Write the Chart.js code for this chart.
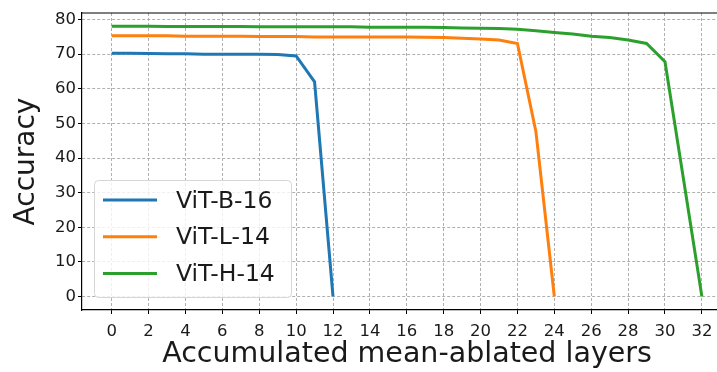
<!DOCTYPE html>
<html>
<head>
<meta charset="utf-8">
<script src="https://cdn.jsdelivr.net/npm/chart.js@4"></script>
<style>
  html, body { margin: 0; padding: 0; background: #fff; }
  #wrap { width: 717px; height: 372px; }
</style>
</head>
<body>
<div id="wrap"><canvas id="chart" width="717" height="372"></canvas></div>
<script>
// DATA
let seriesNames = ["ViT-B-16", "ViT-L-14", "ViT-H-14"];
let seriesColors = ["#1f77b4", "#ff7f0e", "#2ca02c"];

let layersB = [0,1,2,3,4,5,6,7,8,9,10,11,12];
let accB = [70.3,70.3,70.2,70.1,70.1,70.0,70.0,70.0,70.0,69.9,69.5,62.0,0];

let layersL = [0,1,2,3,4,5,6,7,8,9,10,11,12,13,14,15,16,17,18,19,20,21,22,23,24];
let accL = [75.3,75.3,75.3,75.3,75.2,75.2,75.2,75.2,75.1,75.1,75.1,75.0,75.0,75.0,75.0,75.0,75.0,74.9,74.8,74.6,74.4,74.1,73.1,47.7,0];

let layersH = [0,1,2,3,4,5,6,7,8,9,10,11,12,13,14,15,16,17,18,19,20,21,22,23,24,25,26,27,28,29,30,31,32];
let accH = [78.1,78.1,78.1,78.0,78.0,78.0,78.0,78.0,77.9,77.9,77.9,77.9,77.9,77.9,77.8,77.8,77.8,77.8,77.7,77.6,77.5,77.4,77.2,76.8,76.3,75.8,75.2,74.8,74.1,73.1,67.8,34.0,0];

let xTicks = [0,2,4,6,8,10,12,14,16,18,20,22,24,26,28,30,32];
let yTicks = [0,10,20,30,40,50,60,70,80];
let xTitle = "Accumulated mean-ablated layers";

function pts(xs, ys) {
  return xs.map((x, i) => ({ x: x, y: ys[i] }));
}

let font = "'DejaVu Sans', sans-serif";

// LEGEND (drawn inside the plot, like matplotlib) + x title
let boxLegend = {
  id: "boxLegend",
  afterDraw(chart) {
    let c = chart.ctx;
    let x = 94, y = 180, w = 197, h = 117;
    c.save();
    c.fillStyle = "rgba(255,255,255,0.8)";
    c.strokeStyle = "#d6d6d6";
    c.lineWidth = 1;
    c.beginPath();
    c.roundRect(x + 0.5, y + 0.5, w, h, 4);
    c.fill();
    c.stroke();
    c.font = "23.5px " + font;
    c.textBaseline = "middle";
    chart.data.datasets.forEach((ds, i) => {
      let ry = y + 20 + i * 36.7;
      c.strokeStyle = ds.borderColor;
      c.lineWidth = 3;
      c.beginPath();
      c.moveTo(103, ry);
      c.lineTo(157, ry);
      c.stroke();
      c.fillStyle = "#1a1a1a";
      c.fillText(ds.label, 176, ry + 1.5);
    });

    // x axis title, centred on the full axes box (which runs past the right edge)
    c.font = "28.5px " + font;
    c.textAlign = "center";
    c.textBaseline = "alphabetic";
    c.fillStyle = "#1a1a1a";
    c.fillText(xTitle, 407, 362);
    c.restore();
  }
};

// TOP SPINE
let topSpine = {
  id: "topSpine",
  beforeDatasetsDraw(chart) {
    let a = chart.chartArea;
    let c = chart.ctx;
    c.save();
    c.strokeStyle = "#000";
    c.lineWidth = 1.2;
    c.beginPath();
    c.moveTo(a.left, a.top);
    c.lineTo(chart.width, a.top);
    c.stroke();
    c.restore();
  }
};

let gridOpts = { color: "#b0b0b0", tickColor: "#000", tickBorderDash: [], tickLength: 4, tickWidth: 1 };

let ctx = document.getElementById("chart").getContext("2d");
let chart = new Chart(ctx, {
  type: "line",
  data: {
    datasets: seriesNames.map((name, i) => ({
      label: name,
      data: [pts(layersB, accB), pts(layersL, accL), pts(layersH, accH)][i],
      borderColor: seriesColors[i],
      backgroundColor: seriesColors[i],
      borderWidth: 3,
      pointRadius: 0,
      tension: 0,
      fill: false
    }))
  },
  options: {
    responsive: false,
    animation: false,
    layout: { padding: { top: 13, right: 0, left: 0, bottom: 0 } },
    plugins: { legend: { display: false }, tooltip: { enabled: false } },
    scales: {
      x: {
        type: "linear",
        min: -1.61,
        max: 32.82,
        afterBuildTicks: s => { s.ticks = xTicks.map(v => ({ value: v })); },
        afterFit: s => { s.height = 62; s.paddingRight = 0; s.paddingLeft = 0; },
        ticks: { color: "#1a1a1a", font: { family: font, size: 16.5 }, padding: 8, maxRotation: 0, autoSkip: false },
        grid: gridOpts,
        border: { display: true, color: "#000", width: 1.2, dash: [3, 2] },
        title: { display: false }
      },
      y: {
        min: -3.9,
        max: 81.9,
        afterBuildTicks: s => { s.ticks = yTicks.map(v => ({ value: v })); },
        afterFit: s => { s.width = 82; s.paddingTop = 0; s.paddingBottom = 0; },
        ticks: { color: "#1a1a1a", font: { family: font, size: 16.5 }, padding: 2 },
        grid: gridOpts,
        border: { display: true, color: "#000", width: 1.2, dash: [3, 2] },
        title: { display: true, text: "Accuracy", color: "#1a1a1a", font: { family: font, size: 28 }, padding: { top: 10, bottom: 0 } }
      }
    }
  },
  plugins: [topSpine, boxLegend]
});
</script>
</body>
</html>
